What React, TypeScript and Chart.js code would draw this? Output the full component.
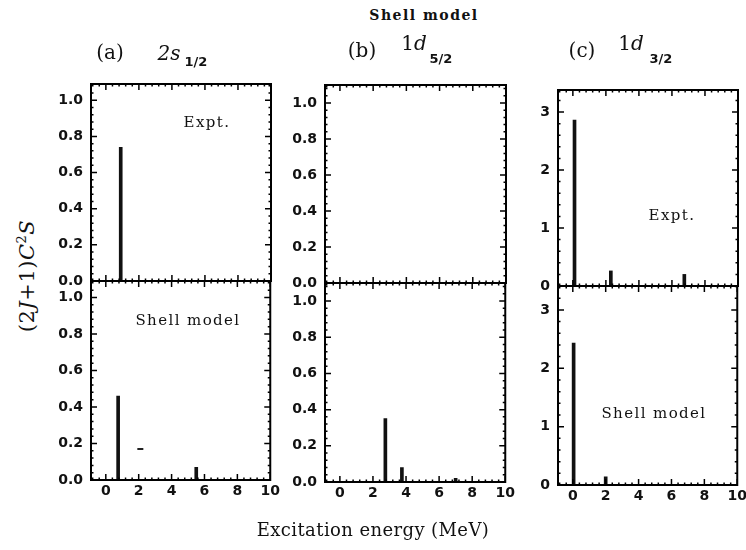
import React, { useEffect, useRef } from "react";
import { Chart, registerables } from "chart.js";
Chart.register(...registerables);

// ---- tick labels ----
const xTickValues = [0, 2, 4, 6, 8, 10];
const yTicksFrac = [0, 0.2, 0.4, 0.6, 0.8, 1.0];
const yTicksC = [0, 1, 2, 3];

// ---- (a) 2s1/2 ----
const aExptEnergy = [0.9];
const aExptStrength = [0.74];
const aModelEnergy = [0.75, 5.5];
const aModelStrength = [0.46, 0.07];
const aModelDashEnergy = [2.1];
const aModelDashStrength = [0.17];

// ---- (b) 1d5/2 ----
const bExptEnergy: number[] = [];
const bExptStrength: number[] = [];
const bModelEnergy = [2.75, 3.75, 7.0];
const bModelStrength = [0.35, 0.08, 0.02];

// ---- (c) 1d3/2 ----
const cExptEnergy = [0.1, 2.3, 6.75];
const cExptStrength = [2.86, 0.26, 0.2];
const cModelEnergy = [0.05, 2.0];
const cModelStrength = [2.43, 0.14];

const X_MIN = -0.9;
const X_MAX = 10;

type PanelProps = {
  left: number;
  right: number;
  top: number;
  bottom: number;
  showX: boolean;
  yMax: number;
  yTicks: number[];
  yDecimals: number;
  yMinor: number;
  energies: number[];
  strengths: number[];
  dashE?: number[];
  dashS?: number[];
};

const PAD_L = 50;
const PAD_T = 22;
const PAD_R = 12;

function Panel(p: PanelProps) {
  const ref = useRef<HTMLCanvasElement>(null);
  const padB = p.showX ? 32 : 22;
  const w = p.right - p.left + PAD_L + PAD_R;
  const h = p.bottom - p.top + PAD_T + padB;

  useEffect(() => {
    if (!ref.current) return;
    const datasets: any[] = [
      {
        type: "bar",
        data: p.energies.map((x, i) => ({ x, y: p.strengths[i] })),
        backgroundColor: "#111",
        borderWidth: 0,
        barThickness: 3,
      },
    ];
    if (p.dashE && p.dashS) {
      datasets.push({
        type: "scatter",
        data: p.dashE.map((x, i) => ({ x, y: p.dashS![i] })),
        pointStyle: "line",
        radius: 3,
        borderColor: "#222",
        borderWidth: 2,
      });
    }
    const frame = {
      id: "frame",
      afterDatasetsDraw(chart: any) {
        const { ctx, chartArea: a, scales } = chart;
        const xs = scales.x;
        const ys = scales.y;
        ctx.save();
        ctx.strokeStyle = "#000";
        ctx.lineWidth = 2;
        ctx.strokeRect(a.left, a.top, a.right - a.left, a.bottom - a.top);
        ctx.lineWidth = 1.5;
        ctx.beginPath();
        // x ticks
        for (let k = -2; k * 0.4 <= X_MAX + 1e-6; k++) {
          const v = k * 0.4;
          if (v < X_MIN) continue;
          const major = Math.abs(v / 2 - Math.round(v / 2)) < 1e-6;
          const len = major ? 6 : 2.5;
          const px = xs.getPixelForValue(v);
          ctx.moveTo(px, a.bottom);
          ctx.lineTo(px, a.bottom - len);
          ctx.moveTo(px, a.top);
          ctx.lineTo(px, a.top + len);
        }
        // y ticks
        for (let k = 0; k * p.yMinor <= p.yMax + 1e-6; k++) {
          const v = k * p.yMinor;
          const major = p.yTicks.some((t) => Math.abs(t - v) < 1e-6);
          const len = major ? 6 : 2.5;
          const py = ys.getPixelForValue(v);
          ctx.moveTo(a.left, py);
          ctx.lineTo(a.left + len, py);
          ctx.moveTo(a.right, py);
          ctx.lineTo(a.right - len, py);
        }
        ctx.stroke();
        ctx.restore();
      },
    };
    const tickFont = { family: "DejaVu Sans", size: 14, weight: "bold" as const };
    const chart = new Chart(ref.current, {
      type: "bar",
      data: { datasets },
      options: {
        responsive: false,
        animation: false,
        devicePixelRatio: 1,
        layout: { padding: { left: 0, top: PAD_T, right: PAD_R, bottom: 0 } },
        plugins: {
          legend: { display: false },
          tooltip: { enabled: false },
          title: { display: false },
        },
        scales: {
          x: {
            type: "linear",
            min: X_MIN,
            max: X_MAX,
            offset: false,
            grid: { display: false, drawTicks: false },
            border: { display: false },
            afterBuildTicks: (s: any) => {
              s.ticks = xTickValues.map((v) => ({ value: v }));
            },
            afterFit: (s: any) => {
              s.height = padB;
            },
            ticks: {
              display: p.showX,
              padding: 3,
              color: "#111",
              font: tickFont,
              maxRotation: 0,
              autoSkip: false,
              callback: (v: any) => String(v),
            },
          },
          y: {
            type: "linear",
            min: 0,
            max: p.yMax,
            grid: { display: false, drawTicks: false },
            border: { display: false },
            afterBuildTicks: (s: any) => {
              s.ticks = p.yTicks.map((v) => ({ value: v }));
            },
            afterFit: (s: any) => {
              s.width = PAD_L;
            },
            ticks: {
              padding: 8,
              color: "#111",
              font: tickFont,
              autoSkip: false,
              callback: (v: any) => Number(v).toFixed(p.yDecimals),
            },
          },
        },
      } as any,
      plugins: [frame],
    });
    return () => chart.destroy();
  }, []);

  return (
    <canvas
      ref={ref}
      width={w}
      height={h}
      style={{
        position: "absolute",
        left: p.left - PAD_L,
        top: p.top - PAD_T,
        width: w,
        height: h,
      }}
    />
  );
}

const serif = "'DejaVu Serif', serif";

function Txt(props: {
  x: number;
  y: number;
  children: any;
  style?: React.CSSProperties;
}) {
  return (
    <div
      style={{
        position: "absolute",
        left: props.x,
        top: props.y,
        transform: "translate(-50%, -50%)",
        whiteSpace: "nowrap",
        fontFamily: serif,
        color: "#111",
        lineHeight: 1,
        ...props.style,
      }}
    >
      {props.children}
    </div>
  );
}

export default function App() {
  const inner: React.CSSProperties = { fontSize: 15, letterSpacing: 1.4 };
  const head: React.CSSProperties = { fontSize: 20 };
  const sub: React.CSSProperties = {
    fontFamily: "'DejaVu Sans', sans-serif",
    fontWeight: "bold",
    fontSize: 13,
  };
  return (
    <div
      style={{
        position: "absolute",
        left: 0,
        top: 0,
        width: 746,
        height: 550,
        background: "#fff",
        overflow: "hidden",
      }}
    >
      {/* column a */}
      <Panel left={91} right={271} top={84} bottom={281} showX={false} yMax={1.09}
        yTicks={yTicksFrac} yDecimals={1} yMinor={0.04}
        energies={aExptEnergy} strengths={aExptStrength} />
      <Panel left={91} right={271} top={281} bottom={480} showX={true} yMax={1.09}
        yTicks={yTicksFrac} yDecimals={1} yMinor={0.04}
        energies={aModelEnergy} strengths={aModelStrength}
        dashE={aModelDashEnergy} dashS={aModelDashStrength} />
      {/* column b */}
      <Panel left={325} right={506} top={85} bottom={283} showX={false} yMax={1.1}
        yTicks={yTicksFrac} yDecimals={1} yMinor={0.04}
        energies={bExptEnergy} strengths={bExptStrength} />
      <Panel left={325} right={506} top={283} bottom={482} showX={true} yMax={1.1}
        yTicks={yTicksFrac} yDecimals={1} yMinor={0.04}
        energies={bModelEnergy} strengths={bModelStrength} />
      {/* column c */}
      <Panel left={558} right={738} top={90} bottom={286} showX={false} yMax={3.38}
        yTicks={yTicksC} yDecimals={0} yMinor={0.2}
        energies={cExptEnergy} strengths={cExptStrength} />
      <Panel left={558} right={738} top={286} bottom={485} showX={true} yMax={3.41}
        yTicks={yTicksC} yDecimals={0} yMinor={0.2}
        energies={cModelEnergy} strengths={cModelStrength} />

      {/* title */}
      <Txt x={424} y={15} style={{ fontSize: 14, fontWeight: "bold", letterSpacing: 1.5 }}>
        Shell model
      </Txt>

      {/* panel headers */}
      <Txt x={110} y={52} style={head}>(a)</Txt>
      <Txt x={169} y={53} style={{ ...head, fontStyle: "italic" }}>2s</Txt>
      <Txt x={196} y={61} style={sub}>1/2</Txt>

      <Txt x={362} y={50} style={head}>(b)</Txt>
      <Txt x={414} y={43} style={head}>1<i>d</i></Txt>
      <Txt x={441} y={58} style={sub}>5/2</Txt>

      <Txt x={582} y={50} style={head}>(c)</Txt>
      <Txt x={631} y={43} style={head}>1<i>d</i></Txt>
      <Txt x={661} y={58} style={sub}>3/2</Txt>

      {/* in-panel labels */}
      <Txt x={207} y={122} style={inner}>Expt.</Txt>
      <Txt x={188} y={320} style={inner}>Shell model</Txt>
      <Txt x={672} y={215} style={inner}>Expt.</Txt>
      <Txt x={654} y={413} style={inner}>Shell model</Txt>

      {/* axis titles */}
      <Txt x={26} y={276} style={{ fontSize: 21, letterSpacing: 0.5, transform: "translate(-50%, -50%) rotate(-90deg)" }}>
        (2<i>J</i>+1)<i>C</i>
        <sup style={{ fontSize: 13 }}>2</sup>
        <i>S</i>
      </Txt>
      <Txt x={373} y={530} style={{ fontSize: 18, letterSpacing: 0.4 }}>
        Excitation energy (MeV)
      </Txt>
    </div>
  );
}
